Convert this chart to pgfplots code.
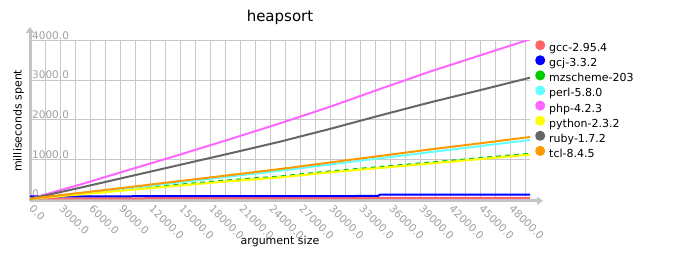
\documentclass[border=0pt]{standalone}
\usepackage{fontspec}
\setmainfont{DejaVu Sans}
\usepackage{pgfplots}
\pgfplotsset{compat=1.18}
\usetikzlibrary{arrows.meta}
\definecolor{cgcc}{HTML}{FF6666}
\definecolor{cgcj}{HTML}{0000FF}
\definecolor{cmz}{HTML}{00CC00}
\definecolor{cperl}{HTML}{66FFFF}
\definecolor{cphp}{HTML}{FF66FF}
\definecolor{cpy}{HTML}{FFFF00}
\definecolor{cruby}{HTML}{666666}
\definecolor{ctcl}{HTML}{FF9900}
\definecolor{axisgray}{HTML}{C4C4C4}
\definecolor{gridgray}{HTML}{C8C8C8}
\definecolor{tickgray}{HTML}{A0A0A0}
\begin{document}
\begin{tikzpicture}
\useasboundingbox (0pt,0pt) rectangle (690pt,280pt);
\begin{axis}[
  at={(30pt,79.2pt)}, anchor=south west,
  scale only axis, width=500pt, height=160pt,
  xmin=0, xmax=50000, ymin=-50, ymax=4000,
  scaled x ticks=false, scaled y ticks=false,
  axis x line=bottom, axis y line=left,
  axis line style={draw=axisgray, line width=3pt},
  x axis line style={-{Triangle[length=6pt,width=8pt]}, shorten >=-13pt},
  y axis line style={-{Triangle[length=6pt,width=8pt]}, shorten >=-14pt},
  xtick={0,3000,...,48000},
  minor xtick={1500,4500,...,49500},
  ytick={0,1000,2000,3000,4000},
  xticklabels={0.0,3000.0,6000.0,9000.0,12000.0,15000.0,18000.0,21000.0,24000.0,27000.0,30000.0,33000.0,36000.0,39000.0,42000.0,45000.0,48000.0},
  yticklabels={0,1000.0,2000.0,3000.0,4000.0},
  major tick length=0pt, minor tick length=0pt,
  grid=both,
  grid style={draw=gridgray, line width=1pt},
  minor grid style={draw=gridgray, line width=1pt},
  /pgf/number format/assume math mode=true,
  ticklabel style={font=\fontsize{10.5}{12}\selectfont, text=tickgray, inner sep=0pt},
  xticklabel style={xshift=1.3pt, yshift=-6pt, rotate=-45, anchor=west},
  yticklabel style={anchor=base west, xshift=2pt, yshift=1.3pt},
  title={heapsort},
  title style={at={(axis description cs:0.5,1)}, anchor=base, yshift=12.8pt, font=\fontsize{15}{18}\selectfont},
  xlabel={argument size},
  xlabel style={at={(axis description cs:0.5,0)}, anchor=base, yshift=-44.2pt, font=\fontsize{11}{13}\selectfont},
  ylabel={milliseconds spent},
  ylabel style={at={(axis description cs:-0.017,0.5)}, anchor=base, rotate=0, font=\fontsize{11}{13}\selectfont},
  legend image code/.code={\fill[#1, solid] (4pt,3.5pt) circle (4pt);},
  legend cell align=left,
  legend style={at={(axis description cs:1,1.005)}, anchor=north west, xshift=5pt,
    draw=none, fill=none, inner sep=0pt, row sep=1.1pt, column sep=4pt,
    font=\fontsize{11}{13}\selectfont,
    nodes={inner sep=0pt, text height=8.5pt, text depth=2.5pt}},
  every axis plot/.append style={line width=2pt, line join=round},
]
\addplot[cgcc] coordinates {(0,10) (10000,14) (20000,17) (30000,20) (40000,22) (50000,24)};
\addlegendentry{gcc-2.95.4}
\addplot[cgcj] coordinates {(0,62) (10000,65) (20000,68) (34800,72) (35000,105) (50000,108)};
\addlegendentry{gcj-3.3.2}
\addplot[cmz, dash pattern=on 5pt off 4pt] coordinates {(0,0) (5000,135) (10000,250) (15000,360) (20000,472) (25000,565) (30000,695) (35000,806) (40000,918) (45000,1030) (50000,1142)};
\addlegendentry{mzscheme-203}
\addplot[cperl] coordinates {(0,0) (5000,138) (10000,277) (15000,420) (20000,565) (25000,711) (30000,870) (35000,1028) (40000,1180) (45000,1335) (50000,1489)};
\addlegendentry{perl-5.8.0}
\addplot[cphp] coordinates {(0,0) (5000,360) (10000,740) (15000,1120) (20000,1510) (25000,1911) (30000,2330) (35000,2780) (40000,3220) (45000,3630) (50000,4038)};
\addlegendentry{php-4.2.3}
\addplot[cpy] coordinates {(0,0) (5000,112) (10000,223) (15000,335) (20000,446) (25000,540) (30000,670) (35000,780) (40000,892) (45000,1005) (50000,1117)};
\addlegendentry{python-2.3.2}
\addplot[cruby] coordinates {(0,0) (5000,280) (10000,570) (15000,860) (20000,1150) (25000,1446) (30000,1770) (35000,2110) (40000,2440) (45000,2750) (50000,3066)};
\addlegendentry{ruby-1.7.2}
\addplot[ctcl] coordinates {(0,0) (5000,150) (10000,298) (15000,450) (20000,600) (25000,754) (30000,920) (35000,1085) (40000,1250) (45000,1405) (50000,1565)};
\addlegendentry{tcl-8.4.5}
\end{axis}
\end{tikzpicture}
\end{document}
